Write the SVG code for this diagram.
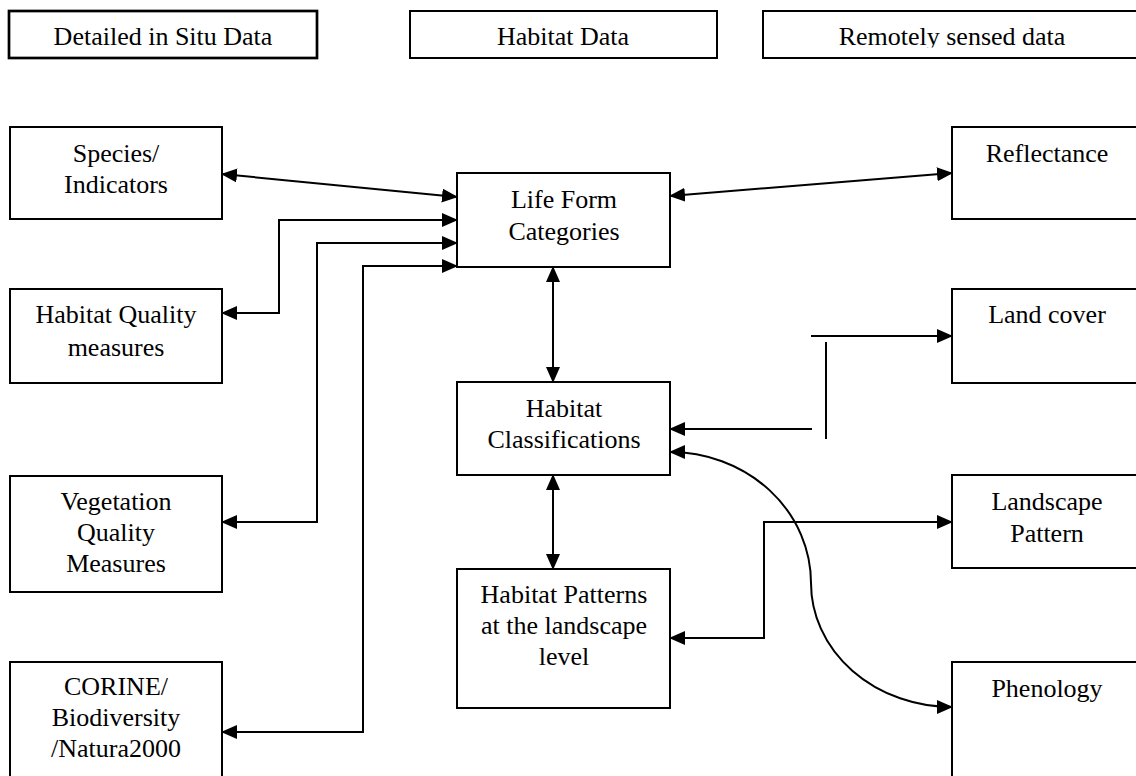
<svg xmlns="http://www.w3.org/2000/svg" width="1136" height="776" viewBox="0 0 1136 776">
<style>
.box{fill:#fff;stroke:#000;stroke-width:2}
.hdr{fill:#fff;stroke:#000;stroke-width:2}
.t{font-family:"Liberation Serif","Times New Roman",serif;font-size:26px;fill:#000;text-anchor:middle}
.c{fill:none;stroke:#000;stroke-width:2}
.a2{marker-start:url(#ah);marker-end:url(#ah)}
.a1{marker-end:url(#ah)}
</style>
<defs>
<marker id="ah" viewBox="0 0 16 14" refX="15" refY="7" markerWidth="16" markerHeight="14" markerUnits="userSpaceOnUse" orient="auto-start-reverse">
<path d="M0,0 L16,7 L0,14 z" fill="#000"/>
</marker>
<clipPath id="clip3"><rect x="763" y="11" width="400" height="36.5"/></clipPath>
</defs>
<rect width="1136" height="776" fill="#fff"/>

<g id="hdr-insitu"><rect class="hdr" x="9" y="11" width="308" height="47" style="stroke-width:2.7"/><text class="t" x="163" y="45">Detailed in Situ Data</text></g>
<g id="hdr-habitat"><rect class="hdr" x="410" y="11" width="307" height="47"/><text class="t" x="563" y="45">Habitat Data</text></g>
<g id="hdr-remote"><rect class="hdr" x="763" y="11" width="400" height="47"/><text class="t" x="952" y="45" clip-path="url(#clip3)">Remotely sensed data</text></g>

<g id="species"><rect class="box" x="10" y="127" width="212" height="92"/><text class="t" x="116" y="162">Species/</text><text class="t" x="116" y="193">Indicators</text></g>
<g id="habqual"><rect class="box" x="10" y="289" width="212" height="94"/><text class="t" x="116" y="323">Habitat Quality</text><text class="t" x="116" y="356">measures</text></g>
<g id="vegqual"><rect class="box" x="10" y="476" width="212" height="116"/><text class="t" x="116" y="510">Vegetation</text><text class="t" x="116" y="541">Quality</text><text class="t" x="116" y="572">Measures</text></g>
<g id="corine"><rect class="box" x="10" y="662" width="212" height="130"/><text class="t" x="116" y="695">CORINE/</text><text class="t" x="116" y="726">Biodiversity</text><text class="t" x="116" y="757">/Natura2000</text></g>

<g id="lifeform"><rect class="box" x="457" y="173" width="213" height="94"/><text class="t" x="564" y="208">Life Form</text><text class="t" x="564" y="240">Categories</text></g>
<g id="habclass"><rect class="box" x="457" y="382" width="213" height="93"/><text class="t" x="564" y="417">Habitat</text><text class="t" x="564" y="448">Classifications</text></g>
<g id="habpat"><rect class="box" x="457" y="569" width="213" height="139"/><text class="t" x="564" y="603">Habitat Patterns</text><text class="t" x="564" y="634">at the landscape</text><text class="t" x="564" y="665">level</text></g>

<g id="reflectance"><rect class="box" x="952" y="127" width="200" height="92"/><text class="t" x="1047" y="162">Reflectance</text></g>
<g id="landcover"><rect class="box" x="952" y="289" width="200" height="94"/><text class="t" x="1047" y="323">Land cover</text></g>
<g id="landscape"><rect class="box" x="952" y="475" width="200" height="93"/><text class="t" x="1047" y="510">Landscape</text><text class="t" x="1047" y="542">Pattern</text></g>
<g id="phenology"><rect class="box" x="952" y="662" width="200" height="130"/><text class="t" x="1047" y="697">Phenology</text></g>

<g id="connectors">
<path class="c a2" d="M222,174 L457,197"/>
<path class="c a2" d="M222,313 H279 V220 H457"/>
<path class="c a2" d="M222,522 H317 V243 H457"/>
<path class="c a2" d="M222,732 H363 V266 H457"/>
<path class="c a2" d="M670,196 L952,173"/>
<path class="c a2" d="M553,267 V382"/>
<path class="c a2" d="M553,475 V569"/>
<path class="c a1" d="M811,336 H952"/>
<path class="c" d="M826,342 V439"/>
<path class="c a1" d="M812,429 H670"/>
<path class="c a2" d="M670,638 H764 V522 H952"/>
<path class="c a2" d="M670,452 A141,131 0 0 1 811,583 A141,124 0 0 0 952,707"/>
</g>
</svg>
